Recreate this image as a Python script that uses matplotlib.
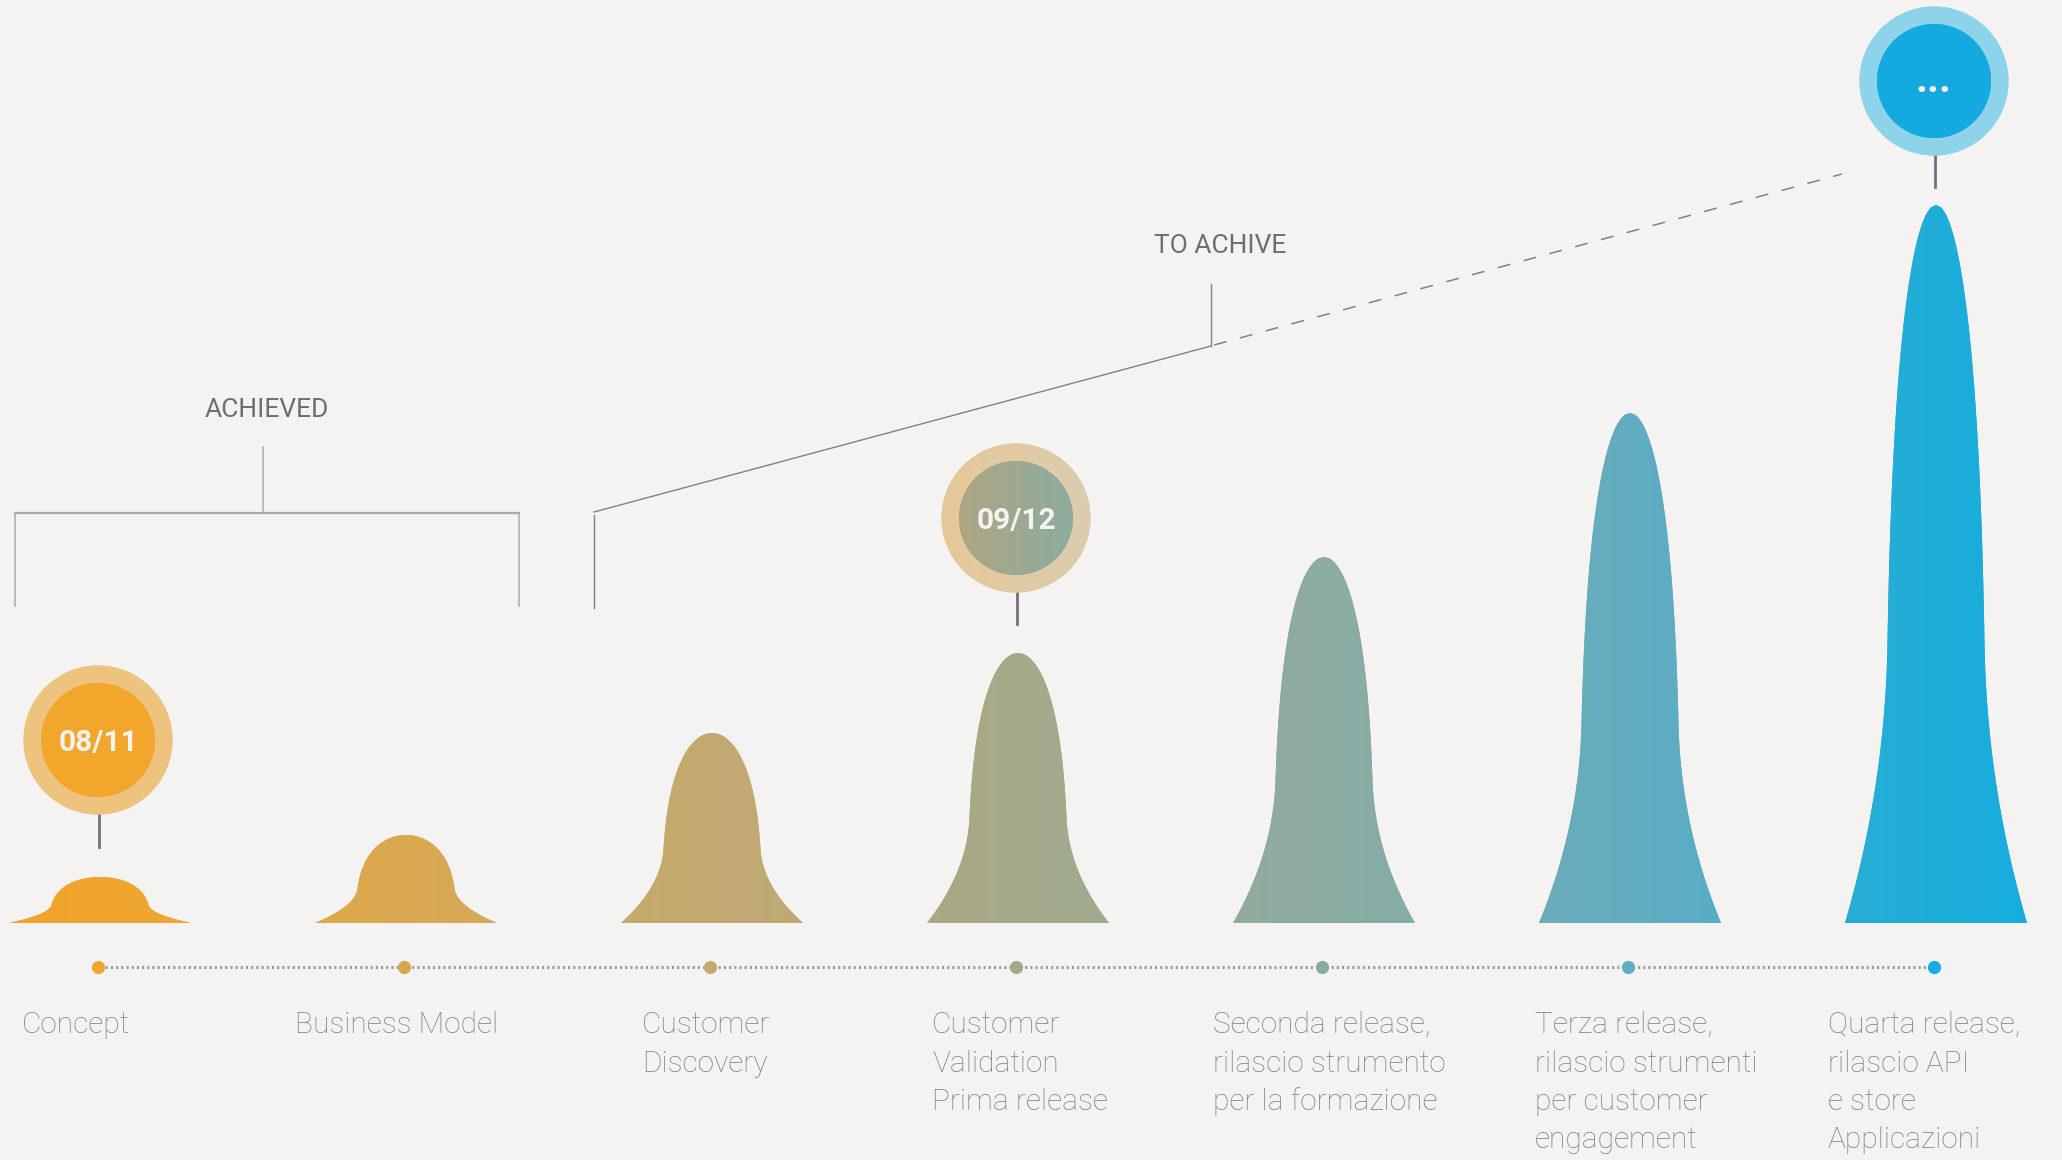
import matplotlib.pyplot as plt
import numpy as np
from matplotlib.colors import LinearSegmentedColormap
from matplotlib.patches import Circle, Polygon

# stages of the roadmap, left to right
stages = ["Concept", "Business Model", "Customer\nDiscovery",
          "Customer\nValidation\nPrima release",
          "Seconda release,\nrilascio strumento\nper la formazione",
          "Terza release,\nrilascio strumenti\nper customer\nengagement",
          "Quarta release,\nrilascio API\ne store\nApplicazioni"]
# height of each peak (px)
heights = [46, 88, 190, 270, 366, 510, 718]
left_colors = ['#f2a42b', '#dea84a', '#c7a96b', '#aca883', '#93ab9d', '#6bacba', '#28add5']
right_colors = ['#efa733', '#d5a95a', '#bea976', '#9fab90', '#85ada8', '#59adc7', '#16aedd']
dot_colors = ['#f3a42a', '#d9a752', '#c3a870', '#a3a98a', '#88aca3', '#5faec3', '#15aee0']

# milestones: label, stage index
milestones = ["08/11", "09/12", "..."]
milestone_stage = [0, 3, 6]
ring_left = ['#edc37e', '#e6c896', '#8dd4ea']
ring_right = ['#edc37e', '#dbcdb1', '#8dd4ea']
core_left = ['#f3a62c', '#aea683', '#15aadf']
core_right = ['#f3a62c', '#8dac9f', '#15aadf']

bg = '#f4f3f1'
W, H = 2062, 1160

fig = plt.figure(figsize=(W / 100, H / 100), dpi=100, facecolor=bg)
ax = fig.add_axes([0, 0, 1, 1])
ax.set_facecolor(bg)

centers = 100 + 306 * np.arange(len(stages))
base = 923


def gradient_fill(patch, x0, x1, y0, y1, c0, c1, z):
    cmap = LinearSegmentedColormap.from_list('g', [c0, c1])
    im = ax.imshow(np.linspace(0, 1, 256).reshape(1, -1), cmap=cmap,
                   extent=[x0, x1, y1, y0], aspect='auto', zorder=z,
                   interpolation='bilinear')
    im.set_clip_path(patch)


# peaks
t = np.linspace(0, 1, 300)
for cx, h, c0, c1 in zip(centers, heights, left_colors, right_colors):
    hw = 50 * np.sqrt(np.clip(1 - t ** 3, 0, None)) + 41 * np.clip(1 - t / 0.39, 0, None) ** 2
    ys = base - t * h
    pts = np.column_stack([np.concatenate([cx - hw, (cx + hw)[::-1]]),
                           np.concatenate([ys, ys[::-1]])])
    poly = Polygon(pts, closed=True, facecolor=c0, edgecolor='none', zorder=2)
    ax.add_patch(poly)
    gradient_fill(poly, cx - 92, cx + 92, base - h - 2, base + 1, c0, c1, 3)

# timeline
ax.plot([centers[0], centers[-1]], [967, 967], color='#9c9c9c', lw=2.2,
        linestyle=(0, (0.7, 1.0)), zorder=2)
for cx, c in zip(centers, dot_colors):
    ax.plot(cx - 2, 967, 'o', ms=9.5, color=c, mec='none', zorder=4)

# stage labels
label_left = [22, 295, 642, 932, 1213, 1535, 1828]
for x, lab in zip(label_left, stages):
    for i, line in enumerate(lab.split('\n')):
        ax.text(x, 1033 + i * 38.5, line, ha='left', va='baseline',
                fontsize=21.5, family='Roboto', weight='light', color='#818181')

# milestone bubbles
circle_y = [740, 518, 81]
stem_end = [847, 624, 187]
text_size = [21.5, 21.5, 30]
for k, (lab, si, cy) in enumerate(zip(milestones, milestone_stage, circle_y)):
    cx = centers[si] - 2
    ring = Circle((cx, cy), 74.5, facecolor=ring_left[k], edgecolor='none', zorder=5)
    ax.add_patch(ring)
    gradient_fill(ring, cx - 75, cx + 75, cy - 75, cy + 75, ring_left[k], ring_right[k], 6)
    core = Circle((cx, cy), 57, facecolor=core_left[k], edgecolor='none', zorder=7)
    ax.add_patch(core)
    gradient_fill(core, cx - 57, cx + 57, cy - 57, cy + 57, core_left[k], core_right[k], 8)
    ax.text(cx, cy + 11, lab, ha='center', va='baseline', fontsize=text_size[k],
            family='Roboto', weight='bold', color='#f4f3f1', zorder=9)
    ax.plot([cx + 1, cx + 1], [cy + 75, stem_end[k]], color='#6f7378', lw=2, zorder=4)

# ACHIEVED bracket
gline = '#a9a9a9'
ax.plot([263, 263], [447, 511], color=gline, lw=1.1)
ax.plot([15, 519], [513, 513], color=gline, lw=1.6)
ax.plot([15, 15], [513, 606], color=gline, lw=1.1)
ax.plot([519, 519], [513, 606], color=gline, lw=1.1)
ax.text(267, 417, "ACHIEVED", ha='center', va='baseline', fontsize=19,
        family='Roboto', color='#6c6f72')

# TO ACHIVE connector
dline = '#808285'
ax.plot([594, 594], [515, 608], color=dline, lw=1)
ax.plot([594, 1211], [512, 346], color=dline, lw=1)
ax.plot([1211, 1211], [284, 346], color=dline, lw=1)
ax.plot([1214, 1842], [345, 174], color=dline, lw=1.1, dashes=(8.5, 9))
ax.text(1220, 253, "TO ACHIVE", ha='center', va='baseline', fontsize=19,
        family='Roboto', color='#6c6f72')

ax.set_xlim(0, W)
ax.set_ylim(H, 0)
ax.axis('off')
fig.savefig('out.png', dpi=100, facecolor=bg)
